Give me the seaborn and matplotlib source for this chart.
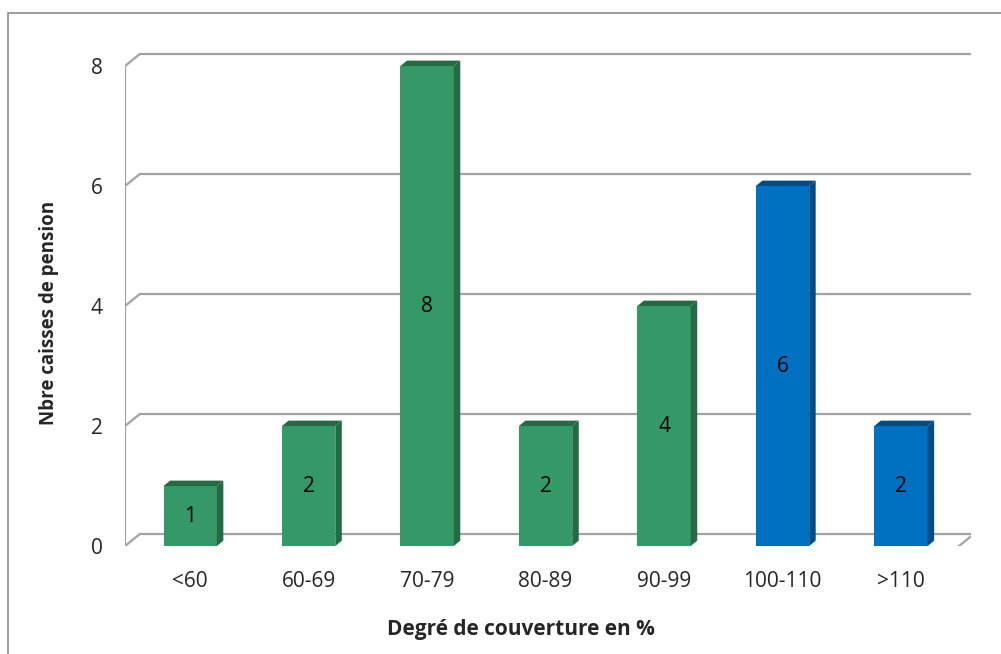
import pandas as pd
import matplotlib.pyplot as plt
import matplotlib.patches as mpatches
import seaborn as sns

# Data
categories = ['<60', '60-69', '70-79', '80-89', '90-99', '100-110', '>110']
counts = [1, 2, 8, 2, 4, 6, 2]
groups = ['low', 'low', 'low', 'low', 'low', 'high', 'high']

face_colors = {'low': '#349966', 'high': '#0070C0'}
side_colors = {'low': '#226B45', 'high': '#004C86'}
grid_color = '#A3A3A3'

sns.set_style("white")
plt.rcParams['font.family'] = ['Open Sans', 'DejaVu Sans']

df = pd.DataFrame({'cat': categories, 'n': counts, 'grp': groups})

fig = plt.figure(figsize=(10.01, 6.54), dpi=100)
ax = fig.add_axes([0.1249, 0.1651, 0.845, 0.7615])

# 3D-ish frame: back wall gridlines + slanted connectors
x0, x1 = -0.55, 6.59
dx, dy = 0.125, 0.2
for v in [0, 2, 4, 6, 8]:
    ax.plot([x0, x0 + dx, x1], [v, v + dy, v + dy], color=grid_color, lw=1.6, zorder=1)
ax.plot([x0, x0], [-0.04, 8], color=grid_color, lw=1.6, zorder=1)
# floor front edge
ax.plot([x0, x1 - dx, x1], [-0.04, -0.04, dy - 0.04], color=grid_color, lw=1.6, zorder=1)

sns.barplot(data=df, x='cat', y='n', hue='grp', palette=face_colors, dodge=False,
            width=0.45, legend=False, ax=ax, zorder=3, saturation=1)

# side and top faces from the drawn bars
ddx, ddy = 0.055, 0.09
for bar in ax.patches:
    h = bar.get_height()
    if h <= 0:
        continue
    xl = bar.get_x()
    w = bar.get_width()
    grp = 'high' if bar.get_facecolor()[2] > 0.6 else 'low'
    side = mpatches.Polygon([(xl + w, 0), (xl + w + ddx, ddy), (xl + w + ddx, h + ddy), (xl + w, h)],
                            closed=True, facecolor=side_colors[grp], edgecolor='none', zorder=3)
    top = mpatches.Polygon([(xl, h), (xl + ddx, h + ddy), (xl + w + ddx, h + ddy), (xl + w, h)],
                           closed=True, facecolor=side_colors[grp], edgecolor='none', zorder=3)
    ax.add_patch(side)
    ax.add_patch(top)
    bar.set_edgecolor('none')

for i, v in enumerate(counts):
    ax.text(i, v / 2, str(v), ha='center', va='center', fontsize=15, color='black', zorder=4)

ax.set_xlim(x0, x1)
ax.set_ylim(0, 8.3)
ax.set_yticks([0, 2, 4, 6, 8])
ax.set_yticklabels(['0', '2', '4', '6', '8'], fontsize=15)
ax.tick_params(axis='y', length=0, pad=16)
ax.tick_params(axis='x', length=0, pad=18, labelsize=15)
for s in ax.spines.values():
    s.set_visible(False)

ax.set_xlabel('Degré de couverture en %', fontsize=15, fontweight='bold')
ax.set_ylabel('Nbre caisses de pension', fontsize=13.5, fontweight='bold')
ax.xaxis.set_label_coords(0.468, -0.147)
ax.yaxis.set_label_coords(-0.078, 0.468)

# chart border
fig.patches.append(mpatches.Rectangle((8 / 1001, -0.1), 1.2, 1 - 13 / 654 + 0.1,
                                      transform=fig.transFigure, fill=False,
                                      edgecolor='#8C8C8C', lw=1.2))

fig.savefig('out.png', dpi=100)
